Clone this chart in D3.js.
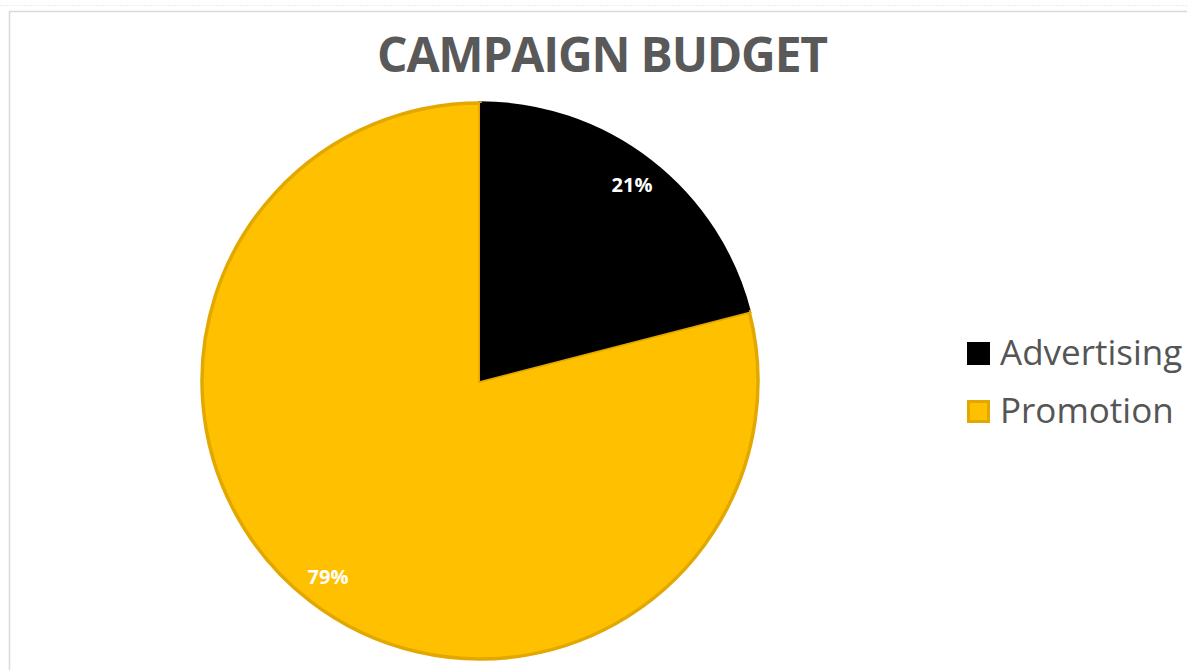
<!DOCTYPE html>
<html>
<head>
<meta charset="utf-8">
<script src="https://cdn.jsdelivr.net/npm/d3@7"></script>
<style>
  html, body { margin: 0; padding: 0; background: #fff; }
  svg { display: block; }
</style>
</head>
<body>
<svg id="chart" width="1187" height="670"></svg>
<script>
// Campaign budget split
const categories = ["Advertising", "Promotion"];
const shares = [21, 79];
const sliceLabels = ["21%", "79%"];
const titleText = "CAMPAIGN BUDGET";

const fills = ["#000000", "#FFC000"];
const strokes = ["#000000", "#E2A800"];

const svg = d3.select("#chart");
const W = 1187, H = 670;

// Chart area frame
svg.append("line").attr("x1", 0).attr("x2", W).attr("y1", 5.5).attr("y2", 5.5)
  .attr("stroke", "#ececec").attr("stroke-width", 1).attr("stroke-dasharray", "2,1");
svg.append("rect").attr("x", 9.5).attr("y", 11.5).attr("width", W + 10).attr("height", H + 10)
  .attr("fill", "#fff").attr("stroke", "#d9d9d9").attr("stroke-width", 1.5);

// Title
svg.append("text")
  .attr("x", 602).attr("y", 72)
  .attr("text-anchor", "middle")
  .attr("font-family", "'Open Sans', sans-serif")
  .attr("font-weight", 700)
  .attr("font-size", 48)
  .attr("letter-spacing", -1.2)
  .attr("fill", "#595959")
  .text(titleText);

// Pie
const cx = 480, cy = 381, R = 278;
const pie = d3.pie().sort(null).value(d => d)(shares);
const arc = d3.arc().innerRadius(0).outerRadius(R);
const labelArc = d3.arc().innerRadius(248).outerRadius(248);

const g = svg.append("g").attr("transform", `translate(${cx},${cy})`);
g.selectAll("path.slice")
  .data(pie)
  .join("path")
  .attr("class", "slice")
  .attr("d", arc)
  .attr("fill", (d, i) => fills[i])
  .attr("stroke", (d, i) => strokes[i])
  .attr("stroke-width", 3.5)
  .attr("stroke-linejoin", "miter");

// Redraw the black slice on top so its edge sits over the gold outline
g.append("path").attr("d", arc(pie[0])).attr("fill", fills[0]);

g.selectAll("text.pct")
  .data(pie)
  .join("text")
  .attr("class", "pct")
  .attr("transform", d => `translate(${labelArc.centroid(d)})`)
  .attr("text-anchor", "middle")
  .attr("dy", "0.36em")
  .attr("font-family", "'Open Sans', sans-serif")
  .attr("font-weight", 700)
  .attr("font-size", 20)
  .attr("fill", "#ffffff")
  .text((d, i) => sliceLabels[i]);

// Legend
const legend = svg.append("g").attr("transform", "translate(967,342)");
const item = legend.selectAll("g.item")
  .data(categories)
  .join("g")
  .attr("class", "item")
  .attr("transform", (d, i) => `translate(0,${i * 58})`);
item.append("rect")
  .attr("x", 1.5).attr("y", 1.5).attr("width", 20).attr("height", 20)
  .attr("fill", (d, i) => fills[i])
  .attr("stroke", (d, i) => strokes[i])
  .attr("stroke-width", 3);
item.append("text")
  .attr("x", 33).attr("y", 23)
  .attr("font-family", "'Open Sans', sans-serif")
  .attr("font-size", 35)
  .attr("fill", "#555555")
  .text(d => d);
</script>
</body>
</html>
